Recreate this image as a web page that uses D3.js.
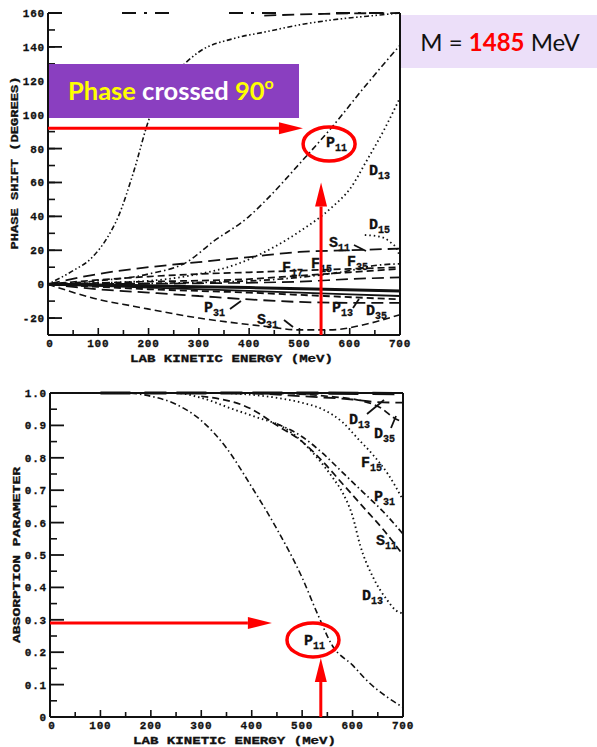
<!DOCTYPE html>
<html>
<head>
<meta charset="utf-8">
<script src="https://cdn.jsdelivr.net/npm/d3@7.9.0/dist/d3.min.js"></script>
<style>
  html, body { margin: 0; padding: 0; background: #fff; }
  svg { display: block; }
  .tick-lab { font-family: "Liberation Mono", monospace; font-weight: bold; font-size: 11px; letter-spacing: 0.8px; fill: #111; stroke: #111; stroke-width: 0.3px; }
  .ax-title { font-family: "Liberation Mono", monospace; font-weight: bold; font-size: 10px; fill: #111; stroke: #111; stroke-width: 0.3px; }
  .curve-lab { font-family: "Liberation Mono", monospace; font-weight: bold; font-size: 15px; fill: #111; stroke: #111; stroke-width: 0.3px; }
  .curve-lab .sub { font-size: 10px; }
</style>
</head>
<body>
<svg id="chart" width="597" height="747"></svg>
<script>
// ---- data ----
const energyTicks = [0, 100, 200, 300, 400, 500, 600, 700];
const phaseTicks = [-20, 0, 20, 40, 60, 80, 100, 120, 140, 160];
const absorbTicks = [0, 0.1, 0.2, 0.3, 0.4, 0.5, 0.6, 0.7, 0.8, 0.9, 1.0];

// phase shifts (degrees) vs lab kinetic energy (MeV)
const phaseP33 = [[0,0],[50,8],[85,15],[117,27],[140,40],[169,65],[203,99],[230,115],[250,123],[300,137],[370,145],[435,149],[500,153],[567,156],[666,159],[700,160]];
const phaseP11 = [[0,0],[100,2],[200,6],[276,13],[328,25],[400,40],[435,50],[500,71],[560,91],[634,118],[700,141]];
const phaseD13 = [[0,0],[200,2],[300,6],[368,11],[450,22],[500,31],[567,46],[600,56],[634,73],[670,92],[700,110]];
const phaseS11 = [[0,0],[100,6],[200,10],[300,13],[400,16],[500,19],[600,20],[700,21]];
const phaseD15 = [[630,29],[660,28],[680,25],[695,20],[700,16]];
const phaseF17 = [[0,0],[100,2.5],[200,4.5],[300,6],[400,7],[500,8],[600,9],[700,10]];
const phaseF15 = [[0,0],[200,1.5],[400,3],[500,5],[600,7],[700,9]];
const phaseF35 = [[0,0],[300,1],[500,4],[600,8],[650,11],[700,12]];
const phaseF37 = [[0,0],[300,0.5],[500,1.5],[600,3],[700,4]];
const phaseP13 = [[0,0],[200,-1],[400,-2],[550,-3],[700,-4]];
const phaseD33 = [[0,0],[200,-2],[400,-4],[600,-6],[700,-7]];
const phaseD35 = [[0,0],[200,-3],[400,-5],[550,-7],[700,-9]];
const phaseP31 = [[0,0],[100,-3],[200,-5],[300,-7],[400,-9],[500,-10.5],[600,-11],[700,-11]];
const phaseS31 = [[0,0],[100,-9],[170,-13],[300,-20],[435,-25],[500,-27],[560,-27],[634,-23.5],[700,-18]];
const phaseTop = [[430,158.5],[550,159.5],[700,160]];

// absorption parameter vs lab kinetic energy (MeV)
const absP11 = [[0,1],[150,1],[200,0.99],[250,0.965],[300,0.915],[350,0.83],[400,0.71],[450,0.58],[500,0.43],[530,0.32],[560,0.22],[600,0.16],[630,0.11],[670,0.06],[700,0.03]];
const absD13 = [[0,1],[250,1],[300,0.985],[363,0.95],[410,0.925],[462,0.895],[500,0.85],[530,0.80],[560,0.74],[581,0.69],[600,0.62],[615,0.53],[641,0.43],[669,0.36],[685,0.33],[700,0.32]];
const absS11 = [[300,0.99],[400,0.95],[450,0.9],[500,0.85],[540,0.79],[580,0.72],[620,0.65],[660,0.58],[700,0.50]];
const absP31 = [[450,0.905],[500,0.865],[540,0.815],[580,0.755],[620,0.695],[660,0.635],[700,0.565]];
const absF15 = [[350,1],[450,0.985],[500,0.97],[540,0.95],[580,0.91],[610,0.86],[640,0.81],[670,0.75],[700,0.67]];
const absD15 = [[400,1],[500,0.99],[600,0.98],[650,0.972],[700,0.97]];
const absD35 = [[450,1],[550,0.99],[620,0.975],[660,0.95],[680,0.925],[700,0.91]];
const absTop = [[100,1],[400,1],[700,0.998]];

// ---- layout ----
const svg = d3.select('#chart');
const xT = d3.scaleLinear().domain([0, 700]).range([48, 400]);
const yT = d3.scaleLinear().domain([-30, 160]).range([335, 13]);
const xB = d3.scaleLinear().domain([0, 700]).range([50, 403]);
const yB = d3.scaleLinear().domain([0, 1]).range([717, 393]);

const dash = {
  solid: null,
  dotted: '1.5,3',
  dashdot: '6,3,1.5,3',
  dashdotdot: '1.5,2.5,1.5,2.5,5,2.5',
  dashed: '7,4',
  longdash: '12,6',
  heavy: '30,14,22,10'
};

function drawCurves(g, x, y, list) {
  const line = d3.line().x(d => x(d[0])).y(d => y(d[1])).curve(d3.curveMonotoneX);
  list.forEach(c => {
    g.append('path')
      .attr('d', line(c.data))
      .attr('fill', 'none')
      .attr('stroke', '#111')
      .attr('stroke-width', c.w || 1.5)
      .attr('stroke-dasharray', dash[c.style]);
  });
}

function label(g, x, y, main, sub) {
  const t = g.append('text').attr('class', 'curve-lab').attr('x', x).attr('y', y);
  t.append('tspan').text(main);
  t.append('tspan').attr('class', 'sub').attr('dy', 4).text(sub);
}

function leader(g, x1, y1, x2, y2) {
  g.append('line').attr('x1', x1).attr('y1', y1).attr('x2', x2).attr('y2', y2)
    .attr('stroke', '#111').attr('stroke-width', 1.8);
}

function frame(g, x, y, yTicks, yMinor, yFmt, opts) {
  const [x0, x1] = x.range();
  const [y0, y1] = y.range();
  // box
  g.append('line').attr('x1', x0).attr('x2', x0).attr('y1', y1).attr('y2', y0).attr('stroke', '#111').attr('stroke-width', 2);
  g.append('line').attr('x1', x1).attr('x2', x1).attr('y1', y1).attr('y2', y0).attr('stroke', '#111').attr('stroke-width', 2);
  g.append('line').attr('x1', x0).attr('x2', x1).attr('y1', y0).attr('y2', y0).attr('stroke', '#111').attr('stroke-width', 2);
  g.append('line').attr('x1', x0).attr('x2', x1).attr('y1', y1).attr('y2', y1).attr('stroke', '#111')
    .attr('stroke-width', 2).attr('stroke-dasharray', opts.topDash);

  // x ticks every 50, pointing up
  d3.range(0, 701, 50).forEach(v => {
    g.append('line').attr('x1', x(v)).attr('x2', x(v)).attr('y1', y0).attr('y2', y0 - (v % 100 === 0 ? 7 : 5))
      .attr('stroke', '#111').attr('stroke-width', 1.6);
  });
  g.selectAll('.xlab').data(energyTicks).join('text')
    .attr('class', 'tick-lab').attr('text-anchor', 'middle')
    .attr('x', d => x(d) + (d === 0 ? 2 : 0)).attr('y', y0 + 12).text(d => d);

  // y ticks pointing right
  yMinor.forEach(v => {
    g.append('line').attr('x1', x0).attr('x2', x0 + 7).attr('y1', y(v)).attr('y2', y(v)).attr('stroke', '#111').attr('stroke-width', 1.6);
  });
  yTicks.forEach(v => {
    g.append('line').attr('x1', x0).attr('x2', x0 + 14).attr('y1', y(v)).attr('y2', y(v)).attr('stroke', '#111').attr('stroke-width', 1.8);
  });
  g.selectAll('.ylab').data(yTicks).join('text')
    .attr('class', 'tick-lab').attr('text-anchor', 'end')
    .attr('x', x0 - 3).attr('y', d => y(d) + 4).text(yFmt);

  // titles
  g.append('text').attr('class', 'ax-title')
    .attr('x', opts.xTitleX).attr('y', y0 + 27)
    .attr('textLength', 203).attr('lengthAdjust', 'spacingAndGlyphs')
    .text('LAB KINETIC ENERGY (MeV)');
  g.append('text').attr('class', 'ax-title')
    .attr('transform', `translate(${opts.yTitleX},${opts.yTitleY}) rotate(-90)`)
    .attr('text-anchor', 'middle')
    .attr('textLength', opts.yTitleLen).attr('lengthAdjust', 'spacingAndGlyphs')
    .text(opts.yTitle);
}

// ---- top panel: phase shifts ----
const gTop = svg.append('g');
frame(gTop, xT, yT, phaseTicks, d3.range(-30, 161, 10), d => d, {
  topDash: '14,60,14,8,3,8',
  xTitleX: 130, yTitleX: 18, yTitleY: 163, yTitleLen: 173,
  yTitle: 'PHASE SHIFT (DEGREES)'
});

drawCurves(gTop, xT, yT, [
  { data: phaseP33, style: 'dashdotdot', w: 1.6 },
  { data: phaseP11, style: 'dashdot', w: 1.6 },
  { data: phaseD13, style: 'dotted', w: 1.8 },
  { data: phaseS11, style: 'longdash', w: 1.8 },
  { data: phaseD15, style: 'dotted', w: 1.8 },
  { data: phaseF17, style: 'dashed', w: 1.7 },
  { data: phaseF15, style: 'dashed', w: 1.7 },
  { data: phaseF35, style: 'dashdot', w: 1.7 },
  { data: phaseF37, style: 'longdash', w: 1.7 },
  { data: phaseP13, style: 'solid', w: 3 },
  { data: phaseD33, style: 'solid', w: 1.8 },
  { data: phaseD35, style: 'dashed', w: 1.8 },
  { data: phaseP31, style: 'longdash', w: 1.8 },
  { data: phaseS31, style: 'dashed', w: 1.6 },
  { data: phaseTop, style: 'longdash', w: 1.8 }
]);

label(gTop, 326, 147, 'P', '11');
label(gTop, 369, 175, 'D', '13');
label(gTop, 369, 229, 'D', '15');
label(gTop, 329, 247, 'S', '11');
leader(gTop, 354, 245, 366, 251);
label(gTop, 282, 272, 'F', '17');
label(gTop, 311, 268, 'F', '15');
label(gTop, 347, 266, 'F', '35');
label(gTop, 204, 312, 'P', '31');
leader(gTop, 230, 309, 241, 301);
label(gTop, 257, 324, 'S', '31');
leader(gTop, 284, 320, 293, 327);
label(gTop, 332, 312, 'P', '13');
leader(gTop, 353, 308, 359, 299);
label(gTop, 366, 315, 'D', '35');

// ---- bottom panel: absorption parameter ----
const gBot = svg.append('g');
frame(gBot, xB, yB, absorbTicks, d3.range(0.05, 1, 0.1), d => (d === 0 ? '0' : d.toFixed(1)), {
  topDash: null,
  xTitleX: 133, yTitleX: 20, yTitleY: 555, yTitleLen: 176,
  yTitle: 'ABSORPTION PARAMETER'
});

drawCurves(gBot, xB, yB, [
  { data: absTop, style: 'heavy', w: 3.2 },
  { data: absP11, style: 'dashdot', w: 1.6 },
  { data: absD13, style: 'dotted', w: 1.9 },
  { data: absS11, style: 'dashed', w: 1.7 },
  { data: absP31, style: 'dashdot', w: 1.7 },
  { data: absF15, style: 'dotted', w: 1.8 },
  { data: absD15, style: 'longdash', w: 1.8 },
  { data: absD35, style: 'dashed', w: 1.7 }
]);

label(gBot, 349, 424, 'D', '13');
leader(gBot, 367, 414, 384, 400);
label(gBot, 374, 438, 'D', '35');
leader(gBot, 391, 428, 396, 416);
label(gBot, 361, 467, 'F', '15');
label(gBot, 374, 501, 'P', '31');
label(gBot, 376, 545, 'S', '11');
label(gBot, 362, 600, 'D', '13');
label(gBot, 304, 645, 'P', '11');

// ---- annotations ----
const red = '#ff0000';
function arrow(x1, y1, x2, y2) {
  const ang = Math.atan2(y2 - y1, x2 - x1);
  const L = 24, W = 6;
  const bx = x2 - L * Math.cos(ang), by = y2 - L * Math.sin(ang);
  svg.append('line').attr('x1', x1).attr('y1', y1).attr('x2', bx).attr('y2', by)
    .attr('stroke', red).attr('stroke-width', 3);
  const px = -Math.sin(ang) * W, py = Math.cos(ang) * W;
  svg.append('path')
    .attr('d', `M${x2},${y2}L${bx + px},${by + py}L${bx - px},${by - py}Z`)
    .attr('fill', red);
}

arrow(xT(0), yT(92), xT(507), yT(92));
arrow(xT(543), yT(-30), xT(543), yT(60));
svg.append('ellipse').attr('cx', xT(559)).attr('cy', yT(82.7)).attr('rx', 26).attr('ry', 17)
  .attr('fill', 'none').attr('stroke', red).attr('stroke-width', 3.5);

arrow(xB(0), yB(0.29), xB(440), yB(0.29));
arrow(xB(537), yB(0), xB(537), yB(0.182));
svg.append('ellipse').attr('cx', xB(521.5)).attr('cy', yB(0.238)).attr('rx', 26).attr('ry', 17)
  .attr('fill', 'none').attr('stroke', red).attr('stroke-width', 3.5);

// purple call-out
svg.append('rect').attr('x', 49).attr('y', 64).attr('width', 250).attr('height', 54).attr('fill', '#8a3fc0');
const callout = svg.append('text').attr('x', 68).attr('y', 100)
  .style('font-family', 'Lato, "Open Sans", sans-serif').style('font-weight', 'bold').style('font-size', '25.5px');
callout.append('tspan').attr('fill', '#ffff00').text('Phase ');
callout.append('tspan').attr('fill', '#ffffff').text('crossed ');
callout.append('tspan').attr('fill', '#ffff00').text('90');
callout.append('tspan').attr('fill', '#ffff00').attr('dy', -11).style('font-size', '16px').text('o');

// mass box
svg.append('rect').attr('x', 401).attr('y', 15).attr('width', 196).attr('height', 53).attr('fill', '#ecdff9');
const mass = svg.append('text').attr('x', 500).attr('y', 51).attr('text-anchor', 'middle')
  .style('font-family', 'Lato, "Open Sans", sans-serif').style('font-size', '24px').attr('fill', '#111');
mass.append('tspan').text('M = ');
mass.append('tspan').attr('fill', '#ff0000').style('font-weight', 'bold').text('1485');
mass.append('tspan').text(' MeV');
</script>
</body>
</html>
